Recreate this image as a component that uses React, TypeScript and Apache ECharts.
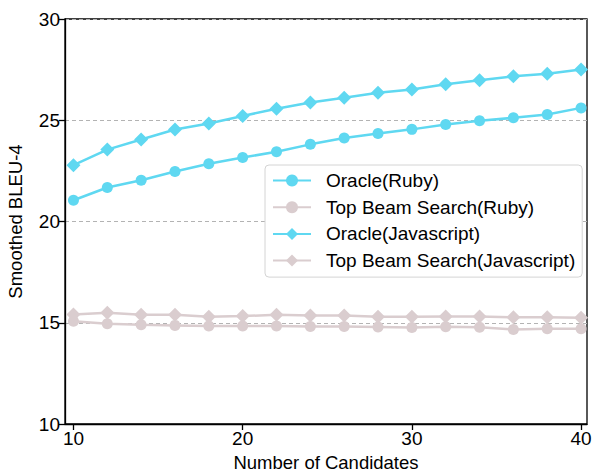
import React, { useEffect, useRef } from "react";
import * as echarts from "echarts";

const candidates = [10, 12, 14, 16, 18, 20, 22, 24, 26, 28, 30, 32, 34, 36, 38, 40];
const oracleRuby = [21.05, 21.68, 22.04, 22.47, 22.85, 23.16, 23.44, 23.81, 24.12, 24.35, 24.55, 24.79, 24.97, 25.12, 25.28, 25.61];
const topBeamRuby = [15.08, 14.95, 14.9, 14.87, 14.84, 14.84, 14.84, 14.82, 14.82, 14.79, 14.76, 14.8, 14.78, 14.67, 14.7, 14.7];
const oracleJs = [22.78, 23.55, 24.05, 24.54, 24.84, 25.21, 25.57, 25.88, 26.11, 26.36, 26.52, 26.78, 26.97, 27.17, 27.3, 27.51];
const topBeamJs = [15.41, 15.49, 15.39, 15.39, 15.3, 15.33, 15.39, 15.36, 15.36, 15.3, 15.3, 15.31, 15.31, 15.27, 15.27, 15.25];
const xTicks = [10, 20, 30, 40];
const seriesNames = ["Oracle(Ruby)", "Top Beam Search(Ruby)", "Oracle(Javascript)", "Top Beam Search(Javascript)"];

const CYAN = "#5fd8f1";
const GRAY = "#dacdcf";
const FONT = "Liberation Sans";

export default function App() {
  const ref = useRef<HTMLDivElement>(null);
  useEffect(() => {
    if (!ref.current) return;
    const chart = echarts.init(ref.current, null, { renderer: "svg" });
    const pairs = (ys: number[]) => candidates.map((x, i) => [x, ys[i]]);
    const mk = (name: string, ys: number[], color: string, symbol: string, size: number) => ({
      name,
      type: "line",
      data: pairs(ys),
      symbol,
      symbolSize: size,
      lineStyle: { color, width: 2.5 },
      itemStyle: { color },
      z: 3,
    });
    chart.setOption({
      animation: false,
      textStyle: { fontFamily: FONT },
      grid: {
        left: 65,
        right: 5,
        top: 19,
        bottom: 49,
        outerBoundsMode: "none",
        containLabel: false,
        show: true,
        borderColor: "#000",
        borderWidth: 1.3,
        backgroundColor: "#fff",
      },
      legend: {
        orient: "vertical",
        left: 265,
        top: 165,
        data: seriesNames,
        itemWidth: 38,
        itemHeight: 15,
        itemGap: 5.7,
        padding: [5, 7, 6, 7],
        backgroundColor: "#fff",
        borderColor: "#d4d4d4",
        borderWidth: 1,
        borderRadius: 4,
        textStyle: { fontSize: 19, color: "#000", fontFamily: FONT, lineHeight: 21, padding: [0, 0, 0, 10] },
      },
      xAxis: {
        type: "value",
        min: 9.5,
        max: 40.35,
        name: "Number of Candidates",
        nameLocation: "middle",
        nameGap: 29,
        nameTextStyle: { fontSize: 18.5, color: "#000", fontFamily: FONT, lineHeight: 18 },
        axisLine: { lineStyle: { color: "#000", width: 1.3 } },
        axisTick: { show: true, length: 6, lineStyle: { color: "#000", width: 1.3 }, customValues: xTicks },
        axisLabel: { fontSize: 19, color: "#000", margin: 5, customValues: xTicks, fontFamily: FONT },
        splitLine: { show: false },
      },
      yAxis: {
        type: "value",
        min: 10,
        max: 30,
        interval: 5,
        name: "Smoothed BLEU-4",
        nameLocation: "middle",
        nameGap: 40,
        nameTextStyle: { fontSize: 18.5, color: "#000", fontFamily: FONT },
        axisLine: { show: true, lineStyle: { color: "#000", width: 1.3 } },
        axisTick: { show: true, length: 6, lineStyle: { color: "#000", width: 1.3 } },
        axisLabel: { fontSize: 19, color: "#000", margin: 5, fontFamily: FONT },
        splitLine: { show: true, lineStyle: { color: "#b3b3b3", type: [4, 3], width: 1 } },
      },
      series: [
        mk(seriesNames[0], oracleRuby, CYAN, "circle", 11),
        mk(seriesNames[1], topBeamRuby, GRAY, "circle", 11),
        mk(seriesNames[2], oracleJs, CYAN, "diamond", 14),
        mk(seriesNames[3], topBeamJs, GRAY, "diamond", 14),
      ],
    });
    return () => chart.dispose();
  }, []);
  return <div ref={ref} style={{ width: 592, height: 473, position: "absolute", left: 0, top: 0 }} />;
}
